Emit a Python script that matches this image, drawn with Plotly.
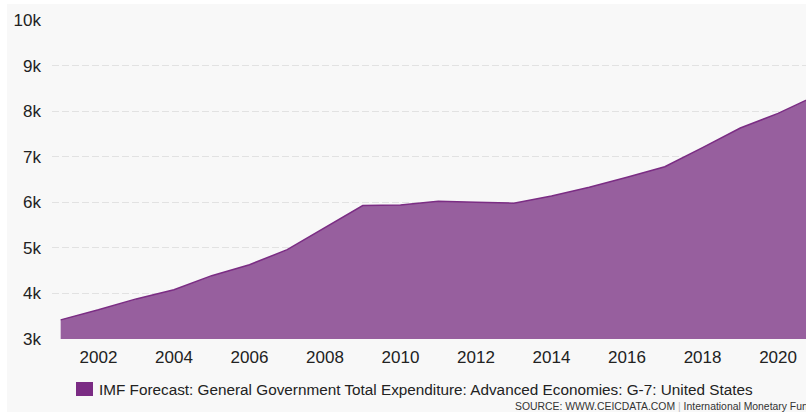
import plotly.graph_objects as go

# Annual values (USD bn), IMF forecast series
years = list(range(2001, 2022))
expenditure = [3420, 3640, 3880, 4080, 4390, 4630, 4960, 5440, 5930, 5940,
               6020, 6000, 5980, 6140, 6330, 6550, 6780, 7200, 7630, 7950, 8340]

y_tick_vals = [3000, 4000, 5000, 6000, 7000, 8000, 9000, 10000]
y_tick_text = ["3k", "4k", "5k", "6k", "7k", "8k", "9k", "10k"]
x_tick_vals = [2002, 2004, 2006, 2008, 2010, 2012, 2014, 2016, 2018, 2020]

series_name = ("IMF Forecast: General Government Total Expenditure: "
               "Advanced Economies: G-7: United States")

W, H = 806, 415
ML, MR, MT, MB = 52, 0, 20, 76
PW, PH = W - ML - MR, H - MT - MB


def px(x):
    return (x - ML) / PW


def py(y):
    return (H - MB - y) / PH


fig = go.Figure()
fig.add_trace(go.Scatter(
    x=years, y=expenditure, mode="lines", fill="tozeroy",
    line=dict(color="#7b2d84", width=1.5),
    fillcolor="#975f9e", name=series_name, showlegend=False,
    hoverinfo="x+y",
))

FONT = "Liberation Sans, Arial, sans-serif"

shapes = [
    # card background
    dict(type="rect", xref="paper", yref="paper",
         x0=px(7), x1=px(W + 5), y0=py(412), y1=py(4),
         fillcolor="#f8f8f8", line=dict(width=0), layer="below"),
    # legend swatch
    dict(type="rect", xref="paper", yref="paper",
         x0=px(76), x1=px(93), y0=py(396), y1=py(382),
         fillcolor="#7b2c84", line=dict(width=0)),
]

annotations = [
    dict(text=series_name, xref="paper", yref="paper",
         x=px(97), y=py(389), xanchor="left", yanchor="middle",
         showarrow=False, font=dict(family=FONT, size=15.3, color="#222222")),
    dict(text=("SOURCE: WWW.CEICDATA.COM "
               "<span style='color:#bbbbbb'>|</span> International Monetary Fund"),
         xref="paper", yref="paper",
         x=px(513), y=py(406), xanchor="left", yanchor="middle",
         showarrow=False, font=dict(family=FONT, size=10.4, color="#333333")),
]

fig.update_layout(
    width=W, height=H,
    margin=dict(l=ML, r=MR, t=MT, b=MB, pad=0),
    paper_bgcolor="white", plot_bgcolor="rgba(0,0,0,0)",
    font=dict(family=FONT, color="#222222"),
    shapes=shapes, annotations=annotations,
    xaxis=dict(range=[2000.77, 2020.74], tickvals=x_tick_vals,
               showgrid=False, zeroline=False, showline=False, ticks="",
               tickfont=dict(size=17, color="#222222"),
               ticklabelstandoff=6),
    yaxis=dict(range=[3000, 10000], tickvals=y_tick_vals, ticktext=y_tick_text,
               showgrid=True, gridcolor="#e2e2e2", griddash="7px,3px", gridwidth=1,
               zeroline=False, showline=False, ticks="",
               tickfont=dict(size=17, color="#222222"),
               ticklabelstandoff=10),
)

fig.write_html("out.html")
